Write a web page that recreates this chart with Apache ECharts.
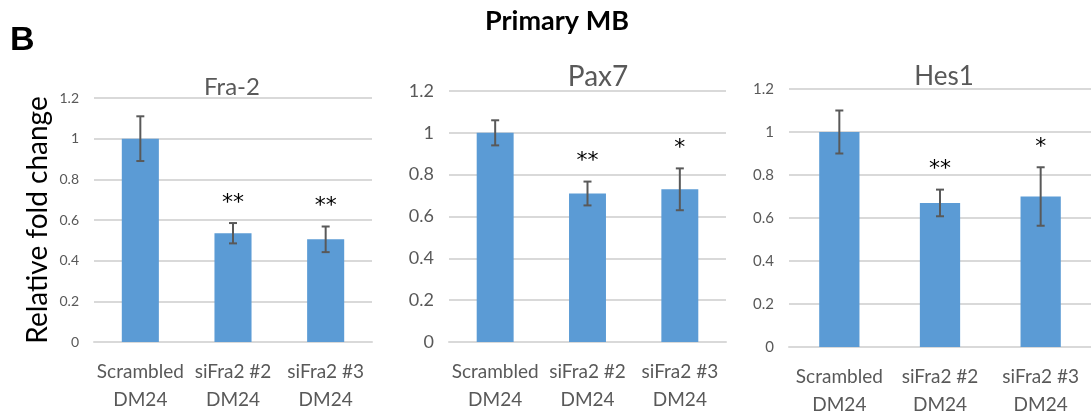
<!DOCTYPE html>
<html>
<head>
<meta charset="utf-8">
<script src="https://cdn.jsdelivr.net/npm/echarts@6/dist/echarts.min.js"></script>
<style>
  html, body { margin: 0; padding: 0; background: #fff; }
  #chart { width: 1091px; height: 419px; }
</style>
</head>
<body>
<div id="chart"></div>
<script>
// 数据
const categories = ['Scrambled\nDM24', 'siFra2 #2\nDM24', 'siFra2 #3\nDM24']
const yTicks = [0, 0.2, 0.4, 0.6, 0.8, 1, 1.2]

const fra2Mean = [1.0, 0.535, 0.505]
const fra2Err = [0.11, 0.05, 0.063]
const fra2Stars = ['', '**', '**']

const pax7Mean = [1.0, 0.71, 0.73]
const pax7Err = [0.06, 0.057, 0.1]
const pax7Stars = ['', '**', '*']

const hes1Mean = [1.0, 0.67, 0.70]
const hes1Err = [0.1, 0.062, 0.136]
const hes1Stars = ['', '**', '*']

const panels = [
  { name: 'Fra-2', mean: fra2Mean, err: fra2Err, stars: fra2Stars,
    grid: { left: 94, width: 278, top: 98, height: 244 }, tickSize: 14,
    title: { x: 232, y: 87, size: 24 } },
  { name: 'Pax7', mean: pax7Mean, err: pax7Err, stars: pax7Stars,
    grid: { left: 449, width: 277, top: 91, height: 251 }, tickSize: 18,
    title: { x: 598, y: 77, size: 28 } },
  { name: 'Hes1', mean: hes1Mean, err: hes1Err, stars: hes1Stars,
    grid: { left: 789, width: 304, top: 89, height: 261 }, tickSize: 15,
    title: { x: 944, y: 77, size: 26 } }
]

const FONT = 'Lato'
const GRAY = '#595959'
const LINE = '#d9d9d9'

// 误差线 + 星号
const makeErrorRender = (stars) => (params, api) => {
  const x = api.value(0)
  const top = api.coord([x, api.value(2)])
  const bot = api.coord([x, api.value(1)])
  const cap = 4
  const style = { stroke: GRAY, lineWidth: 2 }
  const children = [
    { type: 'line', shape: { x1: top[0], y1: top[1], x2: bot[0], y2: bot[1] }, style },
    { type: 'line', shape: { x1: top[0] - cap, y1: top[1], x2: top[0] + cap, y2: top[1] }, style },
    { type: 'line', shape: { x1: bot[0] - cap, y1: bot[1], x2: bot[0] + cap, y2: bot[1] }, style }
  ]
  const s = stars[params.dataIndex]
  if (s) {
    children.push({
      type: 'text',
      style: {
        text: s, x: top[0], y: top[1] - 20,
        align: 'center', verticalAlign: 'middle',
        fill: '#000', font: '22px "DejaVu Sans"'
      }
    })
  }
  return { type: 'group', children }
}

const option = {
  animation: false,
  backgroundColor: '#fff',
  grid: panels.map(p => p.grid),
  xAxis: panels.map((p, i) => ({
    gridIndex: i,
    type: 'category',
    data: categories,
    axisTick: { show: false },
    axisLine: { lineStyle: { color: LINE, width: 2 } },
    axisLabel: { color: GRAY, fontFamily: FONT, fontSize: 19, lineHeight: 28, margin: 16, interval: 0 }
  })),
  yAxis: panels.map((p, i) => ({
    gridIndex: i,
    type: 'value',
    min: 0,
    max: 1.2,
    interval: 0.2,
    axisLine: { show: false },
    axisTick: { show: false },
    splitLine: { lineStyle: { color: LINE, width: 2 } },
    axisLabel: {
      color: GRAY, fontFamily: FONT, fontSize: p.tickSize, margin: 15,
      formatter: v => yTicks.includes(+v.toFixed(1)) ? String(+v.toFixed(1)) : ''
    },
    name: i === 0 ? 'Relative fold change' : '',
    nameLocation: 'middle',
    nameGap: 42,
    nameTextStyle: { color: '#000', fontFamily: FONT, fontSize: 28 }
  })),
  series: panels.flatMap((p, i) => [
    {
      type: 'bar',
      xAxisIndex: i,
      yAxisIndex: i,
      barWidth: '40%',
      itemStyle: { color: '#5b9bd5' },
      data: p.mean
    },
    {
      type: 'custom',
      xAxisIndex: i,
      yAxisIndex: i,
      renderItem: makeErrorRender(p.stars),
      z: 5,
      data: p.mean.map((m, k) => [k, m - p.err[k], m + p.err[k]])
    }
  ]),
  graphic: [
    { type: 'text', left: 10, top: 24,
      style: { text: 'B', fill: '#000', font: 'bold 34px "Liberation Sans"' } },
    { type: 'text', x: 557, y: 21,
      style: { text: 'Primary MB', fill: '#000', font: 'bold 27px ' + FONT, align: 'center', verticalAlign: 'middle' } },
    ...panels.map(p => ({
      type: 'text', x: p.title.x, y: p.title.y,
      style: { text: p.name, fill: GRAY, font: p.title.size + 'px ' + FONT, align: 'center', verticalAlign: 'middle' }
    }))
  ]
}

const myChart = echarts.init(document.getElementById('chart'))
myChart.setOption(option)
window.onresize = () => {
  myChart.resize()
}
</script>
</body>
</html>
